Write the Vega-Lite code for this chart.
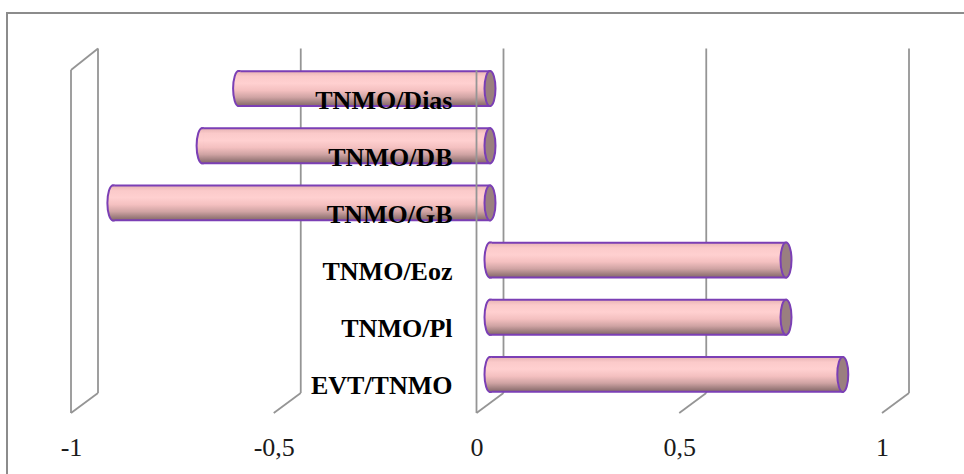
{
  "$schema": "https://vega.github.io/schema/vega-lite/v6.json",
  "width": 957,
  "height": 461,
  "autosize": {"type": "none"},
  "padding": {"left": 7, "top": 13, "right": 0, "bottom": 0},
  "background": "white",
  "config": {
    "view": {"stroke": "#8c8c8c", "strokeWidth": 2, "strokeDash": [957, 1418, 461]},
    "font": "Liberation Serif"
  },
  "datasets": {
    "corr": [
      {"pair": "TNMO/Dias", "r": -0.62},
      {"pair": "TNMO/DB", "r": -0.71},
      {"pair": "TNMO/GB", "r": -0.93},
      {"pair": "TNMO/Eoz", "r": 0.73},
      {"pair": "TNMO/Pl", "r": 0.73},
      {"pair": "EVT/TNMO", "r": 0.87}
    ],
    "ticks": [{"v": -1}, {"v": -0.5}, {"v": 0}, {"v": 0.5}, {"v": 1}]
  },
  "resolve": {"scale": {"y": "independent"}},
  "layer": [
    {
      "data": {"name": "ticks"},
      "mark": {"type": "rule", "color": "#959595", "strokeWidth": 1.8, "xOffset": 27, "yOffset": -20, "y2Offset": -21.5},
      "encoding": {
        "x": {
          "field": "v", "type": "quantitative",
          "scale": {"domain": [-1, 1], "range": [64, 875], "nice": false, "zero": false},
          "axis": {"values": [-1, -0.5, 0, 0.5, 1], "labelExpr": "replace(toString(datum.value), '.', ',')", "title": null, "orient": "bottom", "offset": -27, "domain": false, "ticks": false, "tickSize": 0, "grid": false, "labelPadding": 0, "labelFlush": false, "labelOverlap": false, "labelFont": "Liberation Serif", "labelFontSize": 26, "labelColor": "#1a1a1a", "labelBaseline": "middle"}
        },
        "y": {"datum": 0, "type": "quantitative", "scale": {"domain": [0, 1], "range": [400, 57], "nice": false, "zero": false}, "axis": null},
        "y2": {"datum": 1}
      }
    },
    {
      "data": {"name": "ticks"},
      "mark": {"type": "rule", "color": "#959595", "strokeWidth": 1.8, "x2Offset": 27, "y2Offset": -20},
      "encoding": {
        "x": {
          "field": "v", "type": "quantitative",
          "scale": {"domain": [-1, 1], "range": [64, 875], "nice": false, "zero": false},
          "axis": {"values": [-1, -0.5, 0, 0.5, 1], "labelExpr": "replace(toString(datum.value), '.', ',')", "title": null, "orient": "bottom", "offset": -27, "domain": false, "ticks": false, "tickSize": 0, "grid": false, "labelPadding": 0, "labelFlush": false, "labelOverlap": false, "labelFont": "Liberation Serif", "labelFontSize": 26, "labelColor": "#1a1a1a", "labelBaseline": "middle"}
        },
        "x2": {"field": "v"},
        "y": {"datum": 0, "type": "quantitative", "scale": {"domain": [0, 1], "range": [400, 57], "nice": false, "zero": false}, "axis": null},
        "y2": {"datum": 0}
      }
    },
    {
      "data": {"name": "ticks"},
      "transform": [{"filter": "datum.v === -1"}],
      "mark": {"type": "rule", "color": "#959595", "strokeWidth": 1.8, "x2Offset": 27, "y2Offset": -21.5},
      "encoding": {
        "x": {
          "field": "v", "type": "quantitative",
          "scale": {"domain": [-1, 1], "range": [64, 875], "nice": false, "zero": false},
          "axis": {"values": [-1, -0.5, 0, 0.5, 1], "labelExpr": "replace(toString(datum.value), '.', ',')", "title": null, "orient": "bottom", "offset": -27, "domain": false, "ticks": false, "tickSize": 0, "grid": false, "labelPadding": 0, "labelFlush": false, "labelOverlap": false, "labelFont": "Liberation Serif", "labelFontSize": 26, "labelColor": "#1a1a1a", "labelBaseline": "middle"}
        },
        "x2": {"field": "v"},
        "y": {"datum": 1, "type": "quantitative", "scale": {"domain": [0, 1], "range": [400, 57], "nice": false, "zero": false}, "axis": null},
        "y2": {"datum": 1}
      }
    },
    {
      "data": {"name": "corr"},
      "mark": {
        "type": "bar",
        "fill": {
          "gradient": "linear", "x1": 0, "y1": 0, "x2": 0, "y2": 1,
          "stops": [
            {"offset": 0, "color": "#e6b3b3"},
            {"offset": 0.15, "color": "#fbcaca"},
            {"offset": 0.35, "color": "#ffd0d0"},
            {"offset": 0.55, "color": "#f4c0c0"},
            {"offset": 0.75, "color": "#cfa3a3"},
            {"offset": 0.92, "color": "#9a7a7a"},
            {"offset": 1, "color": "#856767"}
          ]
        },
        "stroke": "#7b3fb5", "strokeWidth": 2,
        "xOffset": 13.5, "x2Offset": 13.5, "yOffset": -10
      },
      "encoding": {
        "x": {
          "field": "r", "type": "quantitative",
          "scale": {"domain": [-1, 1], "range": [64, 875], "nice": false, "zero": false},
          "axis": {"values": [-1, -0.5, 0, 0.5, 1], "labelExpr": "replace(toString(datum.value), '.', ',')", "title": null, "orient": "bottom", "offset": -27, "domain": false, "ticks": false, "tickSize": 0, "grid": false, "labelPadding": 0, "labelFlush": false, "labelOverlap": false, "labelFont": "Liberation Serif", "labelFontSize": 26, "labelColor": "#1a1a1a", "labelBaseline": "middle"}
        },
        "x2": {"datum": 0},
        "y": {"field": "pair", "type": "nominal", "sort": null, "scale": {"type": "band", "range": [57, 400], "paddingInner": 0.39, "paddingOuter": 0.195}, "axis": null}
      }
    },
    {
      "data": {"name": "corr"},
      "mark": {"type": "point", "filled": true, "size": 1225, "opacity": 1, "stroke": "#7b3fb5", "strokeWidth": 2, "strokeOpacity": 1, "fillOpacity": 1, "xOffset": 13.5, "yOffset": -10},
      "encoding": {
        "x": {
          "field": "r", "type": "quantitative",
          "scale": {"domain": [-1, 1], "range": [64, 875], "nice": false, "zero": false},
          "axis": {"values": [-1, -0.5, 0, 0.5, 1], "labelExpr": "replace(toString(datum.value), '.', ',')", "title": null, "orient": "bottom", "offset": -27, "domain": false, "ticks": false, "tickSize": 0, "grid": false, "labelPadding": 0, "labelFlush": false, "labelOverlap": false, "labelFont": "Liberation Serif", "labelFontSize": 26, "labelColor": "#1a1a1a", "labelBaseline": "middle"}
        },
        "y": {"field": "pair", "type": "nominal", "sort": null, "scale": {"type": "band", "range": [57, 400], "paddingInner": 0.39, "paddingOuter": 0.195}, "axis": null},
        "shape": {
          "condition": {"test": "datum.r < 0", "value": "M0.1,-1L0,-1C-0.1734,-1,-0.314,-0.5523,-0.314,0C-0.314,0.5523,-0.1734,1,0,1L0.1,1"},
          "value": "M0,-1C0.1734,-1,0.314,-0.5523,0.314,0C0.314,0.5523,0.1734,1,0,1C-0.1734,1,-0.314,0.5523,-0.314,0C-0.314,-0.5523,-0.1734,-1,0,-1Z"
        },
        "fill": {
          "condition": {
            "test": "datum.r < 0",
            "value": {
              "gradient": "linear", "x1": 0, "y1": 0, "x2": 0, "y2": 1,
              "stops": [
                {"offset": 0, "color": "#e6b3b3"},
                {"offset": 0.15, "color": "#fbcaca"},
                {"offset": 0.35, "color": "#ffd0d0"},
                {"offset": 0.55, "color": "#f4c0c0"},
                {"offset": 0.75, "color": "#cfa3a3"},
                {"offset": 0.92, "color": "#9a7a7a"},
                {"offset": 1, "color": "#856767"}
              ]
            }
          },
          "value": "#9a7f7f"
        }
      }
    },
    {
      "data": {"name": "corr"},
      "mark": {"type": "point", "filled": true, "size": 1225, "opacity": 1, "stroke": "#7b3fb5", "strokeWidth": 2, "strokeOpacity": 1, "fillOpacity": 1, "xOffset": 13.5, "yOffset": -10},
      "encoding": {
        "x": {
          "datum": 0, "type": "quantitative",
          "scale": {"domain": [-1, 1], "range": [64, 875], "nice": false, "zero": false},
          "axis": {"values": [-1, -0.5, 0, 0.5, 1], "labelExpr": "replace(toString(datum.value), '.', ',')", "title": null, "orient": "bottom", "offset": -27, "domain": false, "ticks": false, "tickSize": 0, "grid": false, "labelPadding": 0, "labelFlush": false, "labelOverlap": false, "labelFont": "Liberation Serif", "labelFontSize": 26, "labelColor": "#1a1a1a", "labelBaseline": "middle"}
        },
        "y": {"field": "pair", "type": "nominal", "sort": null, "scale": {"type": "band", "range": [57, 400], "paddingInner": 0.39, "paddingOuter": 0.195}, "axis": null},
        "shape": {
          "condition": {"test": "datum.r < 0", "value": "M0,-1C0.1734,-1,0.314,-0.5523,0.314,0C0.314,0.5523,0.1734,1,0,1C-0.1734,1,-0.314,0.5523,-0.314,0C-0.314,-0.5523,-0.1734,-1,0,-1Z"},
          "value": "M0.1,-1L0,-1C-0.1734,-1,-0.314,-0.5523,-0.314,0C-0.314,0.5523,-0.1734,1,0,1L0.1,1"
        },
        "fill": {
          "condition": {"test": "datum.r < 0", "value": "#9a7f7f"},
          "value": {
            "gradient": "linear", "x1": 0, "y1": 0, "x2": 0, "y2": 1,
            "stops": [
              {"offset": 0, "color": "#e6b3b3"},
              {"offset": 0.15, "color": "#fbcaca"},
              {"offset": 0.35, "color": "#ffd0d0"},
              {"offset": 0.55, "color": "#f4c0c0"},
              {"offset": 0.75, "color": "#cfa3a3"},
              {"offset": 0.92, "color": "#9a7a7a"},
              {"offset": 1, "color": "#856767"}
            ]
          }
        }
      }
    },
    {
      "data": {"name": "corr"},
      "mark": {"type": "text", "align": "right", "baseline": "middle", "dx": -24, "dy": 2, "font": "Liberation Serif", "fontSize": 26, "fontWeight": "bold", "color": "#000000"},
      "encoding": {
        "x": {
          "datum": 0, "type": "quantitative",
          "scale": {"domain": [-1, 1], "range": [64, 875], "nice": false, "zero": false},
          "axis": {"values": [-1, -0.5, 0, 0.5, 1], "labelExpr": "replace(toString(datum.value), '.', ',')", "title": null, "orient": "bottom", "offset": -27, "domain": false, "ticks": false, "tickSize": 0, "grid": false, "labelPadding": 0, "labelFlush": false, "labelOverlap": false, "labelFont": "Liberation Serif", "labelFontSize": 26, "labelColor": "#1a1a1a", "labelBaseline": "middle"}
        },
        "y": {"field": "pair", "type": "nominal", "sort": null, "scale": {"type": "band", "range": [57, 400], "paddingInner": 0.39, "paddingOuter": 0.195}, "axis": null},
        "text": {"field": "pair"}
      }
    },
    {
      "data": {"name": "ticks"},
      "transform": [{"filter": "datum.v === -1 || datum.v === 0"}],
      "mark": {"type": "rule", "color": "#959595", "strokeWidth": 1.8},
      "encoding": {
        "x": {
          "field": "v", "type": "quantitative",
          "scale": {"domain": [-1, 1], "range": [64, 875], "nice": false, "zero": false},
          "axis": {"values": [-1, -0.5, 0, 0.5, 1], "labelExpr": "replace(toString(datum.value), '.', ',')", "title": null, "orient": "bottom", "offset": -27, "domain": false, "ticks": false, "tickSize": 0, "grid": false, "labelPadding": 0, "labelFlush": false, "labelOverlap": false, "labelFont": "Liberation Serif", "labelFontSize": 26, "labelColor": "#1a1a1a", "labelBaseline": "middle"}
        },
        "y": {"datum": 0, "type": "quantitative", "scale": {"domain": [0, 1], "range": [400, 57], "nice": false, "zero": false}, "axis": null},
        "y2": {"datum": 1}
      }
    }
  ]
}
